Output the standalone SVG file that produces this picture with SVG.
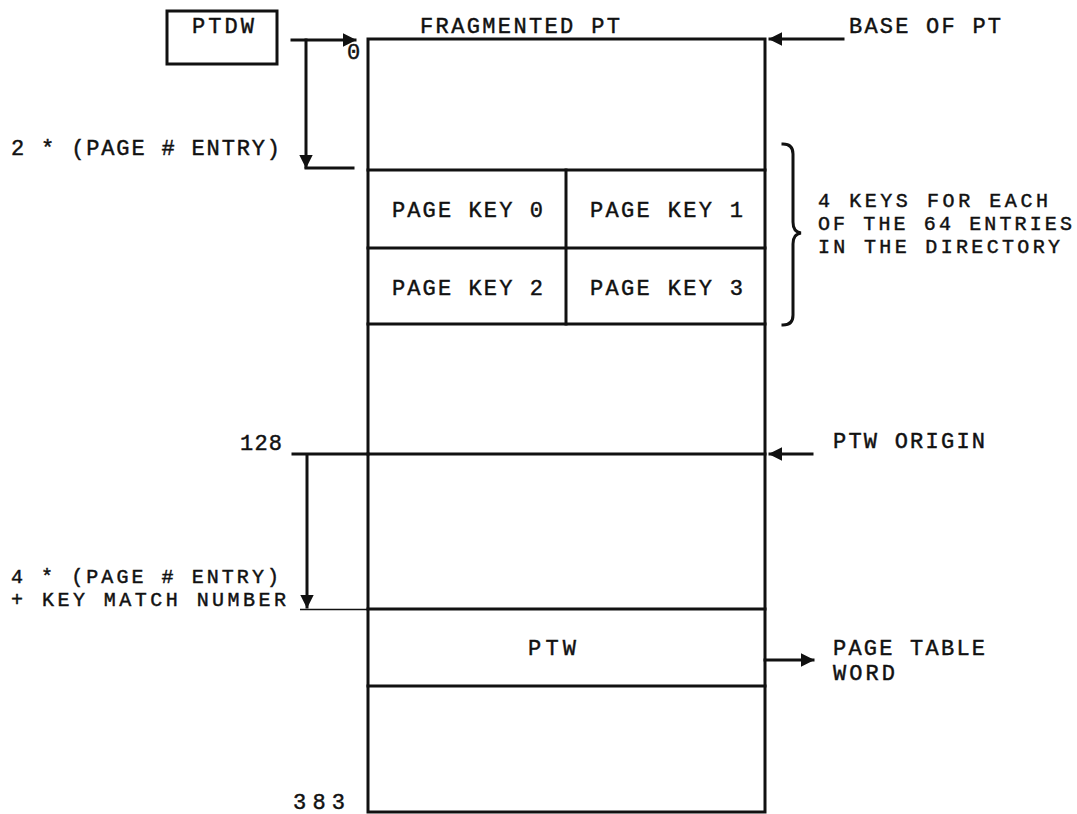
<svg xmlns="http://www.w3.org/2000/svg" width="1077" height="814" viewBox="0 0 1077 814">
<defs>
<style>
text{font-family:"Liberation Mono","Courier New",monospace;font-size:22px;letter-spacing:2px;fill:#111;stroke:#111;stroke-width:0.45}
text.ml{font-size:20px}
.thick{stroke:#111;stroke-width:3;fill:none;stroke-linecap:square}
.thin{stroke:#111;stroke-width:1.5;fill:none}
</style>
<marker id="ah" viewBox="0 0 10 10" refX="9" refY="5" markerWidth="4.5" markerHeight="4.5" orient="auto" markerUnits="strokeWidth">
<path d="M0,0 L10,5 L0,10 Z" fill="#111"/>
</marker>
</defs>
<rect width="1077" height="814" fill="#fff"/>

<g id="ptdw">
<rect x="167" y="11" width="110" height="53" class="thick"/>
<text x="192" y="33" textLength="64" lengthAdjust="spacing">PTDW</text>
</g>

<g id="fragmented-pt">
<text x="420" y="33" textLength="202" lengthAdjust="spacing">FRAGMENTED PT</text>
<rect x="368" y="39" width="397" height="773" class="thick"/>
<line x1="368" y1="170" x2="765" y2="170" class="thick"/>
<line x1="368" y1="248" x2="765" y2="248" class="thick"/>
<line x1="368" y1="324" x2="765" y2="324" class="thick"/>
<line x1="566" y1="170" x2="566" y2="324" class="thick"/>
<line x1="368" y1="454" x2="765" y2="454" class="thick"/>
<line x1="368" y1="609" x2="765" y2="609" class="thick"/>
<line x1="368" y1="686" x2="765" y2="686" class="thick"/>
</g>

<g id="page-keys">
<text x="392" y="217" textLength="153" lengthAdjust="spacing">PAGE KEY 0</text>
<text x="590" y="217" textLength="155" lengthAdjust="spacing">PAGE KEY 1</text>
<text x="392" y="295" textLength="153" lengthAdjust="spacing">PAGE KEY 2</text>
<text x="590" y="295" textLength="155" lengthAdjust="spacing">PAGE KEY 3</text>
</g>

<g id="ptw">
<text x="528" y="655" textLength="50" lengthAdjust="spacing">PTW</text>
</g>

<g id="labels">
<text x="347" y="59">0</text>
<text x="849" y="33" textLength="154" lengthAdjust="spacing">BASE OF PT</text>
<text x="11" y="155" textLength="271" lengthAdjust="spacing">2 * (PAGE # ENTRY)</text>
<text class="ml" x="818" y="207" textLength="232" lengthAdjust="spacing">4 KEYS FOR EACH</text>
<text class="ml" x="818" y="230" textLength="256" lengthAdjust="spacing">OF THE 64 ENTRIES</text>
<text class="ml" x="818" y="253" textLength="244" lengthAdjust="spacing">IN THE DIRECTORY</text>
<text x="240" y="450" textLength="44" lengthAdjust="spacing">128</text>
<text x="833" y="448" textLength="154" lengthAdjust="spacing">PTW ORIGIN</text>
<text class="ml" x="11" y="583" textLength="270" lengthAdjust="spacing">4 * (PAGE # ENTRY)</text>
<text class="ml" x="11" y="606" textLength="277" lengthAdjust="spacing">+ KEY MATCH NUMBER</text>
<text x="833" y="655" textLength="154" lengthAdjust="spacing">PAGE TABLE</text>
<text x="833" y="680" textLength="64" lengthAdjust="spacing">WORD</text>
<text x="293" y="809" textLength="54" lengthAdjust="spacing">383</text>
</g>

<g id="connectors">
<line x1="292" y1="40" x2="355" y2="40" class="thick" marker-end="url(#ah)"/>
<line x1="306" y1="40" x2="306" y2="167" class="thick" marker-end="url(#ah)"/>
<line x1="306" y1="168" x2="353" y2="168" class="thick"/>
<line x1="843" y1="39" x2="770" y2="39" class="thick" marker-end="url(#ah)"/>
<line x1="293" y1="454" x2="368" y2="454" class="thick"/>
<line x1="307" y1="455" x2="307" y2="607" class="thick" marker-end="url(#ah)"/>
<line x1="300" y1="609.5" x2="368" y2="609.5" class="thin"/>
<line x1="812" y1="454" x2="770" y2="454" class="thick" marker-end="url(#ah)"/>
<line x1="765" y1="660" x2="813" y2="660" class="thick" marker-end="url(#ah)"/>
<path d="M783,144 q10,0 10,10 L793,222 q0,10 8,11 q-8,1 -8,11 L793,315 q0,10 -10,10" class="thick" stroke-linecap="round"/>
</g>
</svg>
